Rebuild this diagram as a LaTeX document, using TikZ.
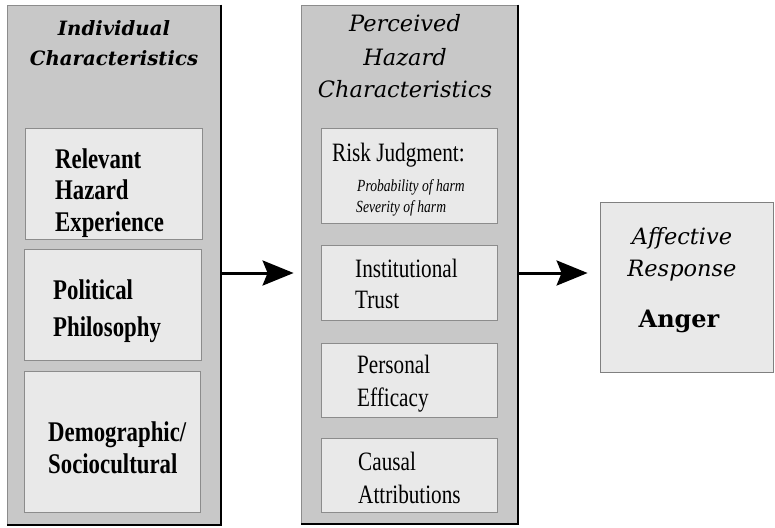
\documentclass[tikz,border=0pt]{standalone}
\usepackage{fontspec}
\setmainfont{Liberation Serif}
\newfontfamily\ttlfont{DejaVu Serif}
\newfontfamily\cndfont[FakeStretch=0.8]{Liberation Serif}
\usetikzlibrary{arrows.meta,calc}
\definecolor{panelgray}{HTML}{C8C8C8}
\definecolor{boxgray}{HTML}{E9E9E9}
\definecolor{edgegray}{HTML}{8C8C8C}
\tikzset{
  panel/.style={draw=edgegray, line width=0.8pt, fill=panelgray, inner sep=0pt},
  innerbox/.style={draw=edgegray, line width=0.8pt, fill=boxgray, inner sep=0pt},
  ttlL/.style={font=\ttlfont\bfseries\itshape\fontsize{19.7}{22}\selectfont, anchor=base},
  ttlM/.style={font=\ttlfont\itshape\fontsize{22.5}{26}\selectfont, anchor=base},
  lbl/.style={font=\cndfont\bfseries\fontsize{28.5}{30}\selectfont, anchor=base west, inner sep=0pt},
  mlbl/.style={font=\cndfont\fontsize{26.5}{30}\selectfont, anchor=base west, inner sep=0pt},
  sublbl/.style={font=\cndfont\itshape\fontsize{17}{19}\selectfont, anchor=base west, inner sep=0pt},
  arr/.style={line width=3pt, -{Stealth[length=31pt,width=25pt,inset=5pt]}}
}
\begin{document}
\begin{tikzpicture}[x=1pt,y=-1pt]
\useasboundingbox (0,0) rectangle (775,527);
% left panel
\node[panel, minimum width=214pt, minimum height=520pt] (L) at (114,265) {};
\draw[black, line width=2pt] (L.north east) -- (L.south east) -- (L.south west);
\node[ttlL] (Lt1) at (114,36) {Individual};
\node[ttlL] (Lt2) at (114,66) {Characteristics};
\node[innerbox, minimum width=177pt, minimum height=111pt] (L1) at (113.5,183.5) {};
\node[innerbox, minimum width=177pt, minimum height=111pt] (L2) at (112.5,304.5) {};
\node[innerbox, minimum width=176pt, minimum height=141pt] (L3) at (112,441.5) {};
\node[lbl] (L1a) at (55,168) {Relevant};
\node[lbl] (L1b) at (55,199) {Hazard};
\node[lbl] (L1c) at (55,231) {Experience};
\node[lbl] (L2a) at (53,299) {Political};
\node[lbl] (L2b) at (53,336) {Philosophy};
\node[lbl] (L3a) at (48,441) {Demographic/};
\node[lbl] (L3b) at (48,473) {Sociocultural};
% middle panel
\node[panel, minimum width=217pt, minimum height=519pt] (M) at (409.5,264.5) {};
\draw[black, line width=2pt] (M.north east) -- (M.south east) -- (M.south west);
\node[ttlM] (Mt1) at (405,31) {Perceived};
\node[ttlM] (Mt2) at (405,65) {Hazard};
\node[ttlM] (Mt3) at (405,97) {Characteristics};
\node[innerbox, minimum width=176pt, minimum height=95pt] (M1) at (409,175.5) {};
\node[innerbox, minimum width=176pt, minimum height=75pt] (M2) at (409,282.5) {};
\node[innerbox, minimum width=176pt, minimum height=74pt] (M3) at (409,380) {};
\node[innerbox, minimum width=176pt, minimum height=74pt] (M4) at (409,475) {};
\node[mlbl] (M1a) at (332,161) {Risk Judgment:};
\node[sublbl] (M1b) at (357,191) {Probability of harm};
\node[sublbl] (M1c) at (356,212) {Severity of harm};
\node[mlbl] (M2a) at (355,277) {Institutional};
\node[mlbl] (M2b) at (355,308) {Trust};
\node[mlbl] (M3a) at (357,373) {Personal};
\node[mlbl] (M3b) at (357,406) {Efficacy};
\node[mlbl] (M4a) at (358,470) {Causal};
\node[mlbl] (M4b) at (358,503) {Attributions};
% right box
\node[innerbox, draw=gray, minimum width=173pt, minimum height=170pt] (R) at (686.5,287) {};
\node[ttlM] (Rt1) at (682,244) {Affective};
\node[ttlM] (Rt2) at (682,276) {Response};
\node[font=\ttlfont\bfseries\fontsize{24}{26}\selectfont, anchor=base] (Ra) at (679,327) {Anger};
% arrows
\coordinate (ay) at (0,273);
\draw[arr, shorten >=7pt] (L.east |- ay) -- (M.west |- ay);
\draw[arr, shorten >=12pt] (M.east |- ay) -- (R.west |- ay);
\end{tikzpicture}
\end{document}
